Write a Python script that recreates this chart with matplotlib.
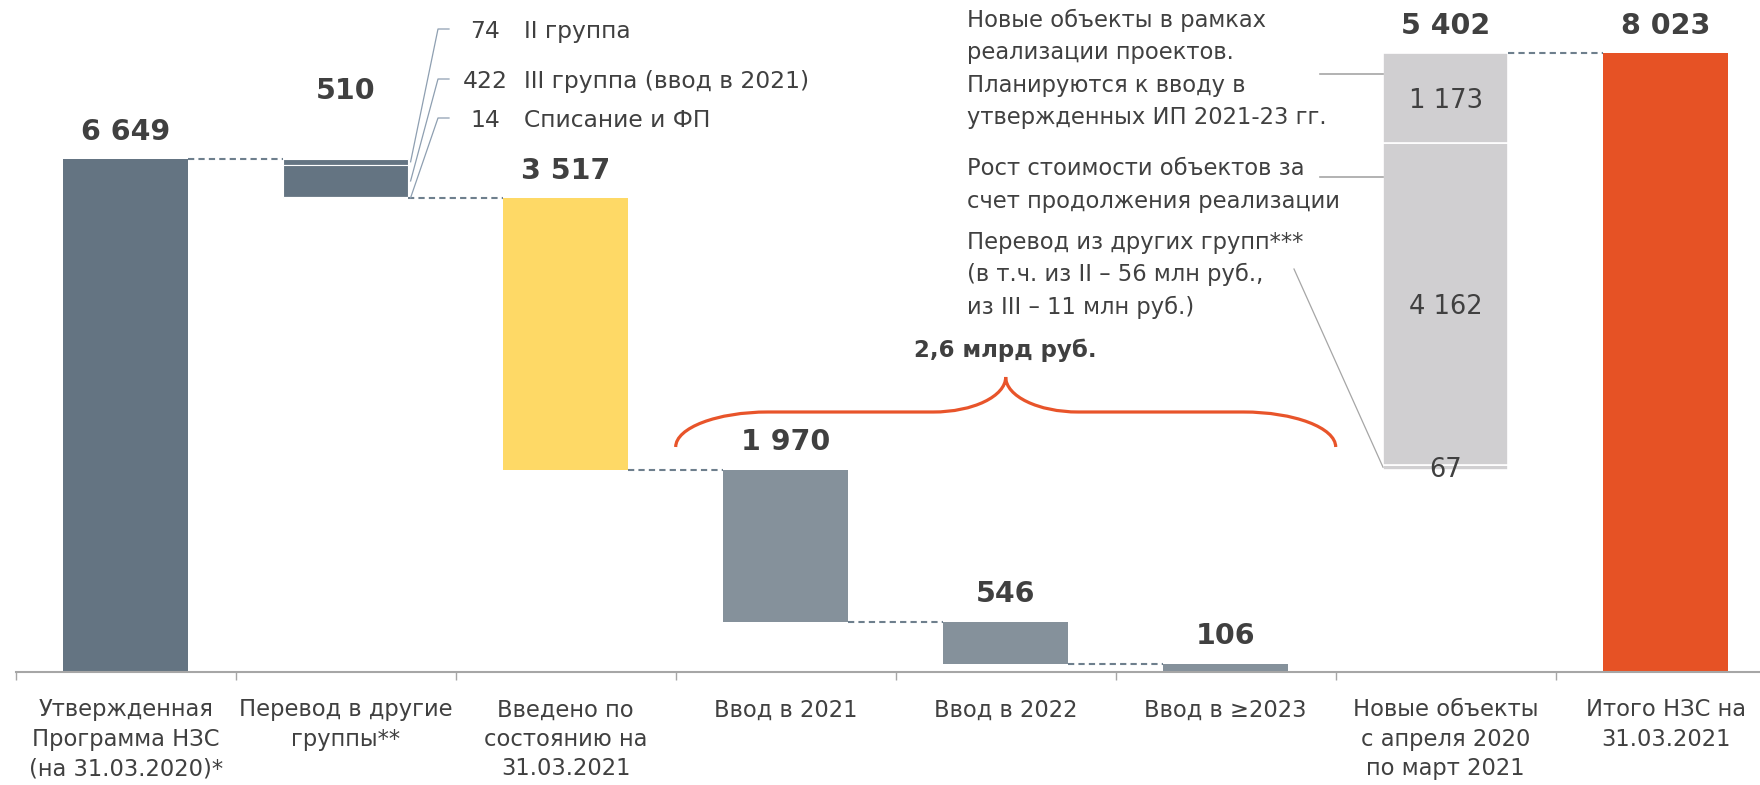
import numpy as np
import matplotlib
matplotlib.use("Agg")
import matplotlib.pyplot as plt
from matplotlib.path import Path
from matplotlib.patches import PathPatch

plt.rcParams['font.family'] = ['DejaVu Sans']

# ---- data ----
categories = [
    "Утвержденная\nПрограмма НЗС\n(на 31.03.2020)*",
    "Перевод в другие\nгруппы**",
    "Введено по\nсостоянию на\n31.03.2021",
    "Ввод в 2021",
    "Ввод в 2022",
    "Ввод в ≥2023",
    "Новые объекты\nс апреля 2020\nпо март 2021",
    "Итого НЗС на\n31.03.2021",
]
start_value = 6649
transfer_parts = [74, 422, 14]          # top to bottom
transfer_names = ["II группа", "III группа (ввод в 2021)", "Списание и ФП"]
commissioned = 3517
plan_values = [1970, 546, 106]          # 2021, 2022, >=2023
new_parts = [67, 4162, 1173]            # bottom to top
new_notes = [
    "Перевод из других групп***\n(в т.ч. из II – 56 млн руб.,\nиз III – 11 млн руб.)",
    "Рост стоимости объектов за\nсчет продолжения реализации",
    "Новые объекты в рамках\nреализации проектов.\nПланируются к вводу в\nутвержденных ИП 2021-23 гг.",
]
total_value = 8023
brace_text = "2,6 млрд руб."

# ---- colours ----
C_DARK = "#647482"
C_MID = "#85919b"
C_YEL = "#fed966"
C_LGRAY = "#d0cfd1"
C_ORANGE = "#e65225"
C_TEXT = "#404040"
C_DASH = "#6e7f8d"

# ---- layout (image pixels) ----
W, H = 1760, 785
X0 = 15.7          # left of first category
CAT_W = 220.0      # px per category
AX_Y = 672         # baseline y in px
PPU = 0.07716      # px per unit
BAR_W = 0.57

fig = plt.figure(figsize=(W / 100, H / 100), dpi=100)
ax = fig.add_axes([X0 / W, (H - AX_Y) / H, 1 - X0 / W, AX_Y / H])


def pxd(x, y):
    """image pixel -> data coords"""
    return (x - X0) / CAT_W - 0.5, (AX_Y - y) / PPU


x = np.arange(len(categories))
half = BAR_W / 2

# ---- axes styling (ticks first, limits afterwards) ----
for s in ["top", "right", "left"]:
    ax.spines[s].set_visible(False)
ax.spines["bottom"].set_color("#a6a6a6")
ax.spines["bottom"].set_linewidth(1.5)
ax.set_yticks([])
ax.set_xticks(x)
ax.set_xticklabels(categories, fontsize=16.3, color=C_TEXT, linespacing=1.36)
ax.tick_params(axis="x", which="major", length=0, pad=19)
ax.set_xticks(np.arange(-0.5, len(categories)), minor=True)
ax.tick_params(axis="x", which="minor", length=6, width=1, color="#a6a6a6")
ax.set_xlim(-0.5, -0.5 + (W - X0) / CAT_W)
ax.set_ylim(0, AX_Y / PPU)

# bar 0
ax.bar(x[0], start_value, BAR_W, color=C_DARK)

# bar 1 (stacked transfer parts)
top = start_value
seg_centres = []
for v in transfer_parts:
    ax.bar(x[1], v, BAR_W, bottom=top - v, color=C_DARK, edgecolor="white", linewidth=0.8)
    seg_centres.append(top - v / 2)
    top -= v
after_transfer = top

# bar 2
remaining = after_transfer - commissioned
ax.bar(x[2], commissioned, BAR_W, bottom=remaining, color=C_YEL)

# bars 3-5
level = remaining
plan_tops = []
for i, v in enumerate(plan_values):
    ax.bar(x[3 + i], v, BAR_W, bottom=level - v, color=C_MID)
    plan_tops.append(level)
    level -= v

# bar 6 stacked
base = total_value - sum(new_parts)
b = base
new_centres = []
for v in new_parts:
    ax.bar(x[6], v, BAR_W, bottom=b, color=C_LGRAY, edgecolor="white", linewidth=1.2)
    new_centres.append(b + v / 2)
    b += v

# bar 7
ax.bar(x[7], total_value, BAR_W, color=C_ORANGE)

# ---- connectors ----
conn = [(0, start_value), (1, after_transfer), (2, remaining),
        (3, plan_tops[1]), (4, plan_tops[2]), (6, total_value)]
for i, yv in conn:
    ax.plot([x[i] + half, x[i + 1] - half], [yv, yv], color=C_DASH, lw=1.5,
            dashes=(3, 2), zorder=1)

# ---- value labels ----
def fmt(v):
    return f"{v:,}".replace(",", " ")

bold = dict(fontsize=20.5, fontweight="bold", color=C_TEXT, ha="center", va="baseline")
tops = [start_value, start_value, after_transfer] + plan_tops + [total_value, total_value]
vals = [start_value, sum(transfer_parts), commissioned] + plan_values + [sum(new_parts), total_value]
for i, (t, v) in enumerate(zip(tops, vals)):
    off = 43 if i == 1 else 14
    ax.annotate(fmt(v), (x[i], t), xytext=(0, off), textcoords="offset points", **bold)

for c, v in zip(new_centres, new_parts):
    ax.text(x[6], c, fmt(v), fontsize=18.5, color=C_TEXT, ha="center",
            va="center_baseline")

# ---- transfer annotations ----
text_y = [29, 79, 118]
for k, (v, name) in enumerate(zip(transfer_parts, transfer_names)):
    xd, yd = pxd(485, text_y[k])
    ax.text(xd, yd, str(v), fontsize=16.8, color=C_TEXT, ha="center",
            va="center_baseline")
    xd, yd = pxd(524, text_y[k])
    ax.text(xd, yd, name, fontsize=16.8, color=C_TEXT, ha="left",
            va="center_baseline")
    xa, ya = pxd(449, text_y[k])
    xb, yb = pxd(438, text_y[k])
    ax.plot([xa, xb, x[1] + half + 0.01], [ya, yb, seg_centres[k]],
            color="#8e9fb1", lw=0.9, clip_on=False)

# ---- new objects notes ----
note_y = [275, 185, 69]
line_y = [None, 177, 74]
for k, note in enumerate(new_notes):
    xd, yd = pxd(967, note_y[k])
    ax.text(xd, yd, note, fontsize=16.3, color=C_TEXT, ha="left", va="center",
            linespacing=1.53)
    if line_y[k] is not None:
        xa, ya = pxd(1320, line_y[k])
        ax.plot([xa, x[6] - half], [ya, ya], color="#a6a6a6", lw=1.2)
xa, ya = pxd(1294, 269)
ax.plot([xa, x[6] - half], [ya, new_centres[0]], color="#a6a6a6", lw=0.9)

# ---- brace ----
bx0, bx1 = x[3] - 0.5, x[5] + 0.5
bxc = (bx0 + bx1) / 2
_, y_end = pxd(0, 447)
_, y_mid = pxd(0, 412)
_, y_tip = pxd(0, 377)
r1, r2, k = 0.42, 0.33, 0.55
verts = [
    (bx0, y_end),
    (bx0, y_end + k * (y_mid - y_end)), (bx0 + r1 * (1 - k), y_mid), (bx0 + r1, y_mid),
    (bxc - r2, y_mid),
    (bxc - r2 * (1 - k), y_mid), (bxc, y_tip - k * (y_tip - y_mid)), (bxc, y_tip),
    (bxc, y_tip - k * (y_tip - y_mid)), (bxc + r2 * (1 - k), y_mid), (bxc + r2, y_mid),
    (bx1 - r1, y_mid),
    (bx1 - r1 * (1 - k), y_mid), (bx1, y_end + k * (y_mid - y_end)), (bx1, y_end),
]
codes = [Path.MOVETO] + [Path.CURVE4] * 3 + [Path.LINETO] + [Path.CURVE4] * 6 + \
        [Path.LINETO] + [Path.CURVE4] * 3
ax.add_patch(PathPatch(Path(verts, codes), fill=False, edgecolor="#e8542a", lw=2.3,
                       capstyle="butt"))
_, yt = pxd(0, 350)
ax.text(bxc, yt, brace_text, fontsize=16.5, fontweight="bold", color=C_TEXT,
        ha="center", va="center")

fig.savefig("out.png", dpi=100)
